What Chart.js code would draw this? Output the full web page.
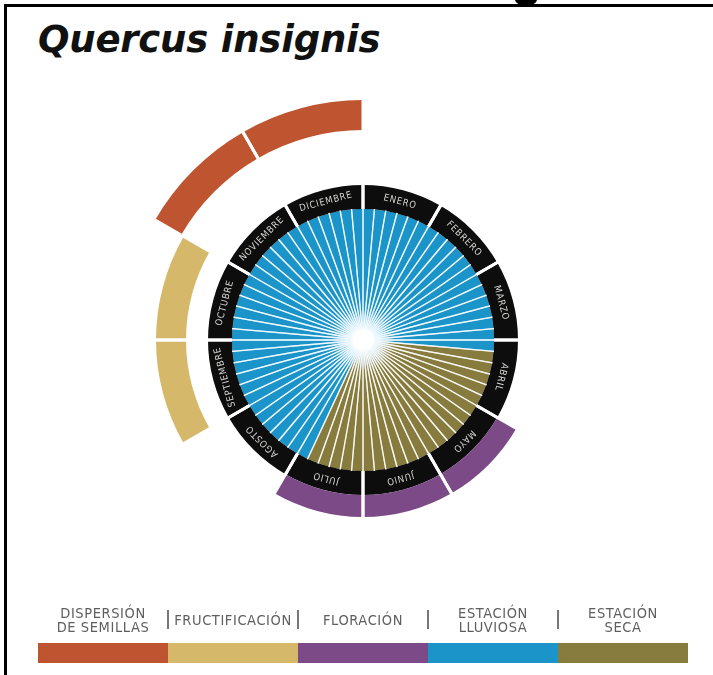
<!DOCTYPE html>
<html lang="es">
<head>
<meta charset="utf-8">
<title>Quercus insignis</title>
<script src="https://cdn.jsdelivr.net/npm/chart.js@4.4.1/dist/chart.umd.min.js"></script>
<style>
  html, body { margin: 0; padding: 0; background: #fff; }
  body { width: 713px; height: 675px; position: relative; overflow: hidden; font-family: "DejaVu Sans", sans-serif; }
  #marco { position: absolute; left: 4px; top: 4px; right: -10px; bottom: -10px; border-top: 3px solid #000; border-left: 3px solid #000; }
  #gota { position: absolute; left: 515px; top: -7px; width: 22px; height: 13px; border-radius: 50%; background: #000; }
  #titulo { position: absolute; left: 38px; top: 17px; margin: 0; font: italic bold 37px/46px "DejaVu Sans", sans-serif; color: #111; white-space: nowrap; letter-spacing: -0.2px; }
  #lienzo { position: absolute; left: 0; top: 0; width: 713px; height: 675px; }
  #leyenda { position: absolute; left: 38px; top: 603px; width: 650px; }
  .etiqueta { position: absolute; top: 0; width: 130px; height: 34px; display: flex; flex-direction: column; justify-content: center; align-items: center;
    font: 14.5px/14px "DejaVu Sans Condensed", "DejaVu Sans", sans-serif; color: #5e5e5e; letter-spacing: 0.6px; }
  .barra { position: absolute; top: 40px; width: 130px; height: 20px; }
  .sep { position: absolute; top: 7px; width: 2px; margin-left: -1px; height: 19px; background: #777; }
</style>
</head>
<body>
<div id="marco"></div>
<div id="gota"></div>
<h1 id="titulo">Quercus insignis</h1>
<div id="lienzo"><canvas id="fenologia"></canvas></div>
<div id="leyenda"></div>

<script>
// DATOS
const meses = ["ENERO", "FEBRERO", "MARZO", "ABRIL", "MAYO", "JUNIO", "JULIO", "AGOSTO", "SEPTIEMBRE", "OCTUBRE", "NOVIEMBRE", "DICIEMBRE"];
const dispersion     = [0, 0, 0, 0, 0, 0, 0, 0, 0, 0, 1, 1];
const fructificacion = [0, 0, 0, 0, 0, 0, 0, 0, 1, 1, 0, 0];
const floracion      = [0, 0, 0, 0, 1, 1, 1, 0, 0, 0, 0, 0];
// estacion seca: inicio y fin en meses contados desde el 1 de enero
const estacionSeca = [3.15, 6.8];
const rayosPorMes = 6;

const leyendaTextos = [
  ["DISPERSIÓN", "DE SEMILLAS"],
  ["FRUCTIFICACIÓN"],
  ["FLORACIÓN"],
  ["ESTACIÓN", "LLUVIOSA"],
  ["ESTACIÓN", "SECA"],
];

// COLORES
const colores = {
  dispersion: "#bf5430",
  fructificacion: "#d5b86a",
  floracion: "#7b4a87",
  lluviosa: "#1b95c9",
  seca: "#877b3e",
  mes: "#0d0d0d",
};
const transparente = "rgba(0,0,0,0)";
const coloresLeyenda = [colores.dispersion, colores.fructificacion, colores.floracion, colores.lluviosa, colores.seca];

// LEYENDA (html)
const leyenda = document.getElementById("leyenda");
leyendaTextos.forEach((lineas, i) => {
  const et = document.createElement("div");
  et.className = "etiqueta";
  et.style.left = i * 130 + "px";
  lineas.forEach((l) => {
    const s = document.createElement("span");
    s.textContent = l;
    et.appendChild(s);
  });
  leyenda.appendChild(et);

  const b = document.createElement("div");
  b.className = "barra";
  b.style.left = i * 130 + "px";
  b.style.background = coloresLeyenda[i];
  leyenda.appendChild(b);

  if (i > 0) {
    const sep = document.createElement("div");
    sep.className = "sep";
    sep.style.left = i * 130 + "px";
    leyenda.appendChild(sep);
  }
});

// TABLAS PARA LA GRAFICA
const unos = meses.map(() => 1);
const rayos = [];
const coloresRayos = [];
for (let i = 0; i < meses.length * rayosPorMes; i++) {
  const medio = (i + 0.5) / rayosPorMes;
  rayos.push(1);
  coloresRayos.push(medio > estacionSeca[0] && medio < estacionSeca[1] ? colores.seca : colores.lluviosa);
}
const pintar = (marcas, color) => marcas.map((v) => (v ? color : transparente));

// PLUGIN: separadores, brillo central y nombres de los meses
const decoracion = {
  id: "decoracion",
  afterDatasetsDraw(chart) {
    const ctx = chart.ctx;
    chart.data.datasets.forEach((ds, i) => {
      if (!ds.sep) return;
      const meta = chart.getDatasetMeta(i);
      ctx.save();
      ctx.strokeStyle = ds.sepColor;
      ctx.lineWidth = ds.sep;
      meta.data.forEach((arc, j) => {
        const bg = Array.isArray(ds.backgroundColor) ? ds.backgroundColor[j] : ds.backgroundColor;
        if (bg === transparente) return;
        const p = arc.getProps(["x", "y", "startAngle", "endAngle", "innerRadius", "outerRadius"]);
        [p.startAngle, p.endAngle].forEach((a) => {
          ctx.beginPath();
          ctx.moveTo(p.x + Math.cos(a) * p.innerRadius, p.y + Math.sin(a) * p.innerRadius);
          ctx.lineTo(p.x + Math.cos(a) * (p.outerRadius + 0.5), p.y + Math.sin(a) * (p.outerRadius + 0.5));
          ctx.stroke();
        });
      });
      ctx.restore();
    });

    // brillo en el centro
    const c = chart.getDatasetMeta(5).data[0];
    const g = ctx.createRadialGradient(c.x, c.y, 0, c.x, c.y, 32);
    g.addColorStop(0, "rgba(255,255,255,1)");
    g.addColorStop(0.3, "rgba(255,255,255,1)");
    g.addColorStop(0.42, "rgba(235,248,255,0.7)");
    g.addColorStop(1, "rgba(220,240,255,0)");
    ctx.save();
    ctx.fillStyle = g;
    ctx.beginPath();
    ctx.arc(c.x, c.y, 32, 0, Math.PI * 2);
    ctx.fill();
    ctx.restore();

    // nombres de los meses
    const metaMeses = chart.getDatasetMeta(4);
    ctx.save();
    ctx.fillStyle = "#d4d4d0";
    ctx.font = '9.5px "DejaVu Sans Condensed", "DejaVu Sans", sans-serif';
    ctx.textAlign = "center";
    ctx.textBaseline = "middle";
    if ("letterSpacing" in ctx) ctx.letterSpacing = "0.8px";
    metaMeses.data.forEach((arc, j) => {
      const p = arc.getProps(["x", "y", "startAngle", "endAngle", "innerRadius", "outerRadius"]);
      const medio = (p.startAngle + p.endAngle) / 2;
      const r = (p.innerRadius + p.outerRadius) / 2;
      ctx.save();
      ctx.translate(p.x + Math.cos(medio) * r, p.y + Math.sin(medio) * r);
      ctx.rotate(medio + Math.PI / 2);
      ctx.fillText(meses[j], 0, 0);
      ctx.restore();
    });
    ctx.restore();
  },
};

// GRAFICA
const grafica = new Chart(document.getElementById("fenologia"), {
  type: "pie",
  data: {
    labels: meses,
    datasets: [
      { label: "Dispersión de semillas", data: unos, backgroundColor: pintar(dispersion, colores.dispersion), weight: 30, sep: 3, sepColor: "#fff" },
      { label: "", data: [1], backgroundColor: transparente, weight: 3 },
      { label: "Fructificación", data: unos, backgroundColor: pintar(fructificacion, colores.fructificacion), weight: 30, sep: 3, sepColor: "#fff" },
      { label: "Floración", data: unos, backgroundColor: pintar(floracion, colores.floracion), weight: 22, sep: 3, sepColor: "#fff" },
      { label: "Meses", data: unos, backgroundColor: colores.mes, weight: 24, sep: 3, sepColor: "#fff" },
      { label: "Estación", data: rayos, backgroundColor: coloresRayos, weight: 131, sep: 1.3, sepColor: "rgba(255,255,255,0.75)" },
    ],
  },
  options: {
    responsive: true,
    maintainAspectRatio: false,
    animation: false,
    events: [],
    radius: 240,
    elements: { arc: { borderWidth: 0 } },
    layout: { padding: { left: 13, top: 5, right: 0, bottom: 0 } },
    plugins: { legend: { display: false }, tooltip: { enabled: false }, title: { display: false } },
  },
  plugins: [decoracion],
});
</script>
</body>
</html>
